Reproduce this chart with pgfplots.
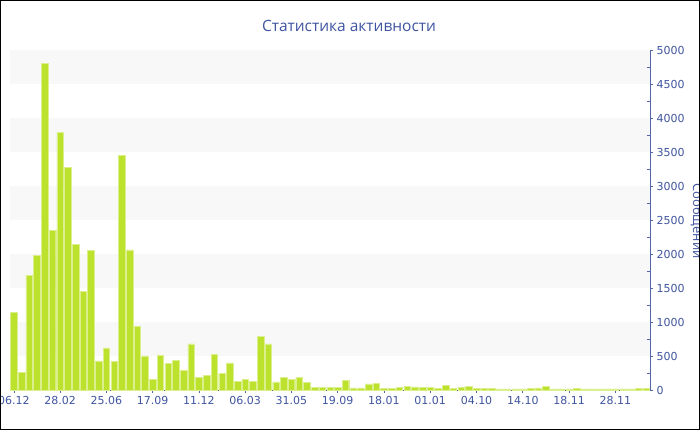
\documentclass[border=0pt]{standalone}
\usepackage{pgfplots}
\pgfplotsset{compat=1.18}
\usepackage{fontspec}
\setmainfont{DejaVu Sans}
\newfontfamily\titlefont{Open Sans}

\definecolor{txtblue}{RGB}{62,84,160}
\definecolor{axisblue}{RGB}{84,102,168}
\definecolor{barlime}{RGB}{189,226,46}
\definecolor{band}{RGB}{248,248,248}

\begin{document}
\begin{tikzpicture}
\begin{axis}[
  set layers,
  at={(10pt,40pt)}, anchor=south west,
  width=640pt, height=340pt, scale only axis,
  xmin=-0.5, xmax=82.5, ymin=0, ymax=5000,
  axis x line*=bottom, axis y line*=right,
  axis line style={axisblue, line width=0.8pt},
  every tick/.style={axisblue, line width=0.6pt},
  tick align=outside, major tick length=3pt,
  xtick={0,6,...,78},
  xticklabels={06.12,28.02,25.06,17.09,11.12,06.03,31.05,19.09,18.01,01.01,04.10,14.10,18.11,28.11},
  ytick={0,500,...,5000},
  extra y ticks={250,750,...,4750},
  extra y tick labels={},
  extra y tick style={tick align=inside, major tick length=3pt},
  scaled y ticks=false,
  /pgf/number format/assume math mode=true,
  /pgf/number format/1000 sep={},
  tick label style={font=\fontsize{11pt}{13pt}\selectfont, text=txtblue},
  clip=false,
]
\begin{pgfonlayer}{axis background}
  \fill[band] (axis cs:-0.5,4500) rectangle (axis cs:82.5,5000);
  \fill[band] (axis cs:-0.5,3500) rectangle (axis cs:82.5,4000);
  \fill[band] (axis cs:-0.5,2500) rectangle (axis cs:82.5,3000);
  \fill[band] (axis cs:-0.5,1500) rectangle (axis cs:82.5,2000);
  \fill[band] (axis cs:-0.5,500) rectangle (axis cs:82.5,1000);
\end{pgfonlayer}
\addplot[ybar, bar width=6.6pt, fill=barlime, draw=barlime!55!white, line width=0.4pt]
coordinates {
(0,1140) (1,255) (2,1690) (3,1980) (4,4800) (5,2350) (6,3790) (7,3270)
(8,2140) (9,1450) (10,2050) (11,430) (12,620) (13,425) (14,3450) (15,2060)
(16,940) (17,500) (18,160) (19,510) (20,390) (21,440) (22,285) (23,680)
(24,185) (25,215) (26,525) (27,240) (28,400) (29,130) (30,160) (31,125)
(32,785) (33,680) (34,120) (35,186) (36,160) (37,186) (38,115) (39,38)
(40,38) (41,38) (42,38) (43,137) (44,33) (45,33) (46,90) (47,100)
(48,27) (49,22) (50,37) (51,50) (52,45) (53,40) (54,36) (55,22)
(56,70) (57,20) (58,38) (59,49) (60,25) (61,20) (62,20) (63,15)
(64,15) (65,15) (66,15) (67,20) (68,30) (69,49) (70,15) (71,15)
(72,15) (73,25) (74,15) (75,15) (76,15) (77,15) (78,15) (79,15)
(80,15) (81,20) (82,20)
};
\end{axis}
\node[text=txtblue, font=\titlefont\fontsize{15.5pt}{18pt}\selectfont] at (349pt,404pt) {Статистика активности};
\node[text=txtblue, rotate=-90, font=\titlefont\fontsize{13pt}{15pt}\selectfont] at (697pt,209pt) {Сообщений};
\draw[black, line width=1.2pt] (0.6pt,0.6pt) rectangle (699.4pt,429.4pt);
\pgfresetboundingbox
\useasboundingbox (0,0) rectangle (700pt,430pt);
\end{tikzpicture}
\end{document}
